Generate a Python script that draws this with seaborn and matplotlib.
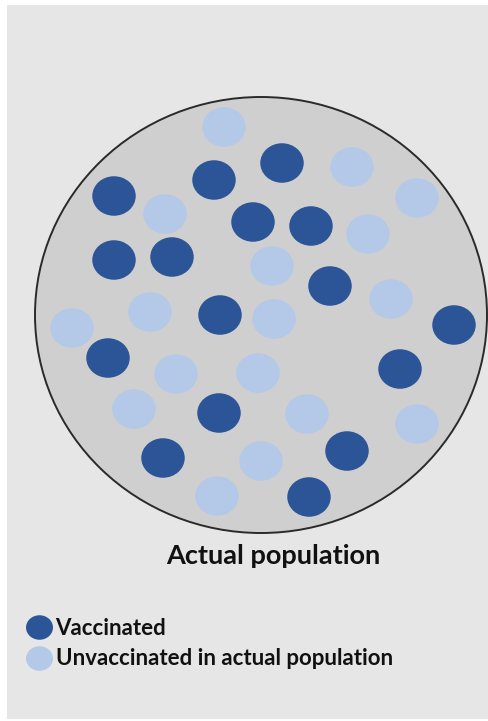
import matplotlib
matplotlib.use("Agg")
import matplotlib.pyplot as plt
from matplotlib.patches import Ellipse
from matplotlib.path import Path
from matplotlib.transforms import Affine2D
import seaborn as sns
import pandas as pd

# dot positions (pixel coords as in the picture)
vacc_x = [114, 214, 282, 253, 311, 114, 172, 330, 220, 454, 108, 400, 219, 163, 347, 309]
vacc_y = [196, 180, 163, 222, 226, 260, 257, 286, 315, 325, 358, 369, 413, 458, 451, 497]
unvacc_x = [224, 352, 165, 417, 368, 272, 150, 274, 391, 72, 176, 258, 134, 307, 417, 261, 217]
unvacc_y = [127, 167, 214, 198, 234, 266, 312, 319, 299, 328, 374, 373, 409, 414, 424, 461, 496]
labels = ["Vaccinated", "Unvaccinated in actual population"]
title = "Actual population"

dark_blue = "#2c5597"
light_blue = "#b4c8e8"

df = pd.DataFrame({
    "x": vacc_x + unvacc_x,
    "y": vacc_y + unvacc_y,
    "status": [labels[0]] * len(vacc_x) + [labels[1]] * len(unvacc_x),
})

sns.set_style("white")
plt.rcParams["font.family"] = ["Lato", "DejaVu Sans"]

fig = plt.figure(figsize=(4.88, 7.21), dpi=100, facecolor="white")
# grey panel with a thin white border left/top/bottom
ax = fig.add_axes([7 / 488, 2 / 721, 481 / 488, 714 / 721])
ax.set_facecolor("#e6e6e6")
ax.add_patch(Ellipse((261, 315), 452, 436, facecolor="#d0cfd0",
                     edgecolor="#2a2a2a", lw=1.4, zorder=1))

# slightly wide dots like the source
oval = Path.unit_circle().transformed(Affine2D().scale(1.1, 1.0))

sns.scatterplot(data=df, x="x", y="y", hue="status",
                palette={labels[0]: dark_blue, labels[1]: light_blue},
                marker=oval, s=980, linewidth=0, ax=ax, zorder=3, legend=True)

ax.set_xlim(7, 488)
ax.set_ylim(719, 5)
ax.set_xticks([])
ax.set_yticks([])
ax.set_xlabel("")
ax.set_ylabel("")
for sp in ax.spines.values():
    sp.set_visible(False)

ax.text(273, 556, title, ha="center", va="center", fontsize=19.5,
        fontweight="bold", color="#111111")

leg = ax.legend(loc="upper left", bbox_to_anchor=(13 / 481, 1 - 602 / 714),
                frameon=False, markerscale=0.62, handlelength=0.75,
                handletextpad=0.35, labelspacing=0.42, borderpad=0,
                prop={"weight": "bold", "size": 16})
for t in leg.get_texts():
    t.set_color("#111111")

fig.savefig("out.png", dpi=100, facecolor="white")
